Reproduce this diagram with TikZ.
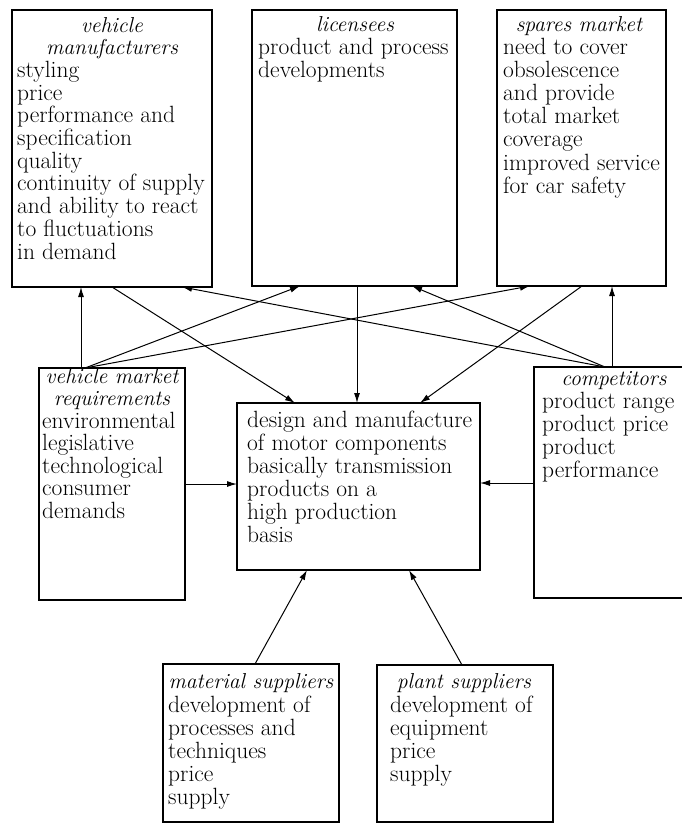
\documentclass[tikz,border=0pt]{standalone}
\usetikzlibrary{arrows.meta,calc}
\begin{document}
\begin{tikzpicture}[x=1pt,y=-1pt,
  box/.style={draw, line width=1.1pt, rectangle, anchor=north west, inner sep=0pt, outer sep=0pt},
  txt/.style={anchor=base west, inner sep=0pt, align=left},
  ttl/.style={anchor=base, inner sep=0pt, align=center},
  arr/.style={line width=1pt, -{Latex[length=10pt,width=6pt]}}]
\fill[white] (0,0) rectangle (681,825);
\useasboundingbox (0,0) rectangle (681,825);
% boxes
\node[box, minimum width=200pt, minimum height=277pt] (vm) at (12,10) {};
\node[box, minimum width=205pt, minimum height=276pt] (lic) at (252,10) {};
\node[box, minimum width=169pt, minimum height=276pt] (sp) at (497,10) {};
\node[box, minimum width=146pt, minimum height=232pt] (vmr) at (39,368) {};
\node[box, minimum width=243pt, minimum height=167pt] (ctr) at (237,403) {};
\node[box, minimum width=160pt, minimum height=231pt] (comp) at (534,367) {};
\node[box, minimum width=176pt, minimum height=158pt] (ms) at (163,664) {};
\node[box, minimum width=176pt, minimum height=157pt] (ps) at (377,665) {};
% texts (anchor = baseline of the last line)
\node[ttl, font=\fontsize{21.6}{22.7}\selectfont\itshape] (vmT) at (112,54.7) {vehicle\\manufacturers};
\node[txt, font=\fontsize{23.5}{22.7}\selectfont] (vmB) at (17,259) {styling\\price\\performance and\\specification\\quality\\continuity of supply\\and ability to react\\to fluctuations\\in demand};
\node[ttl, font=\fontsize{21.6}{23}\selectfont\itshape] (licT) at (355,31) {licensees};
\node[txt, font=\fontsize{23.5}{23}\selectfont] (licB) at (258,77) {product and process\\developments};
\node[ttl, font=\fontsize{21.6}{23.2}\selectfont\itshape] (spT) at (579,31) {spares market};
\node[txt, font=\fontsize{23.5}{23.2}\selectfont] (spB) at (503,193.2) {need to cover\\obsolescence\\and provide\\total market\\coverage\\improved service\\for car safety};
\node[ttl, font=\fontsize{21.6}{22.6}\selectfont\itshape] (vmrT) at (112,405.6) {vehicle market\\requirements};
\node[txt, font=\fontsize{23.5}{22.6}\selectfont] (vmrB) at (42,518.4) {environmental\\legislative\\technological\\consumer\\demands};
\node[txt, font=\fontsize{23.5}{23}\selectfont] (ctrB) at (247,542) {design and manufacture\\of motor components\\basically transmission\\products on a\\high production\\basis};
\node[ttl, font=\fontsize{21.6}{23.3}\selectfont\itshape] (compT) at (614,385) {competitors};
\node[txt, font=\fontsize{23.5}{23.3}\selectfont] (compB) at (542,477.9) {product range\\product price\\product\\performance};
\node[ttl, font=\fontsize{21.6}{23}\selectfont\itshape] (msT) at (251,688) {material suppliers};
\node[txt, font=\fontsize{23.5}{23}\selectfont] (msB) at (168,804) {development of\\processes and\\techniques\\price\\supply};
\node[ttl, font=\fontsize{21.6}{23}\selectfont\itshape] (psT) at (464,688) {plant suppliers};
\node[txt, font=\fontsize{23.5}{23}\selectfont] (psB) at (390,781) {development of\\equipment\\price\\supply};
% connectors
\draw[arr] ($(vmr.north west)+(42,0)$) -- ($(vm.south west)+(69,0)$);
\draw[arr] ($(vmr.north west)+(46,0)$) -- ($(lic.south west)+(48,0)$);
\draw[arr] ($(vmr.north west)+(46,0)$) -- ($(sp.south west)+(33,0)$);
\draw[arr] ($(vm.south west)+(100,0)$) -- ($(ctr.north west)+(58,0)$);
\draw[arr] ($(lic.south west)+(105,0)$) -- ($(ctr.north west)+(120,0)$);
\draw[arr] ($(sp.south west)+(85,0)$) -- ($(ctr.north west)+(183,0)$);
\draw[arr] ($(comp.north west)+(78,0)$) -- ($(sp.south west)+(115,0)$);
\draw[arr] ($(comp.north west)+(71,0)$) -- ($(lic.south west)+(160,0)$);
\draw[arr] ($(comp.north west)+(71,0)$) -- ($(vm.south west)+(170,0)$);
\draw[arr] ($(vmr.north east)+(0,116)$) -- ($(ctr.north west)+(0,81)$);
\draw[arr] ($(comp.north west)+(0,116)$) -- ($(ctr.north east)+(0,80)$);
\draw[arr] ($(ms.north west)+(92,0)$) -- ($(ctr.south west)+(70,0)$);
\draw[arr] ($(ps.north west)+(85,0)$) -- ($(ctr.south west)+(172,0)$);
\end{tikzpicture}
\end{document}
